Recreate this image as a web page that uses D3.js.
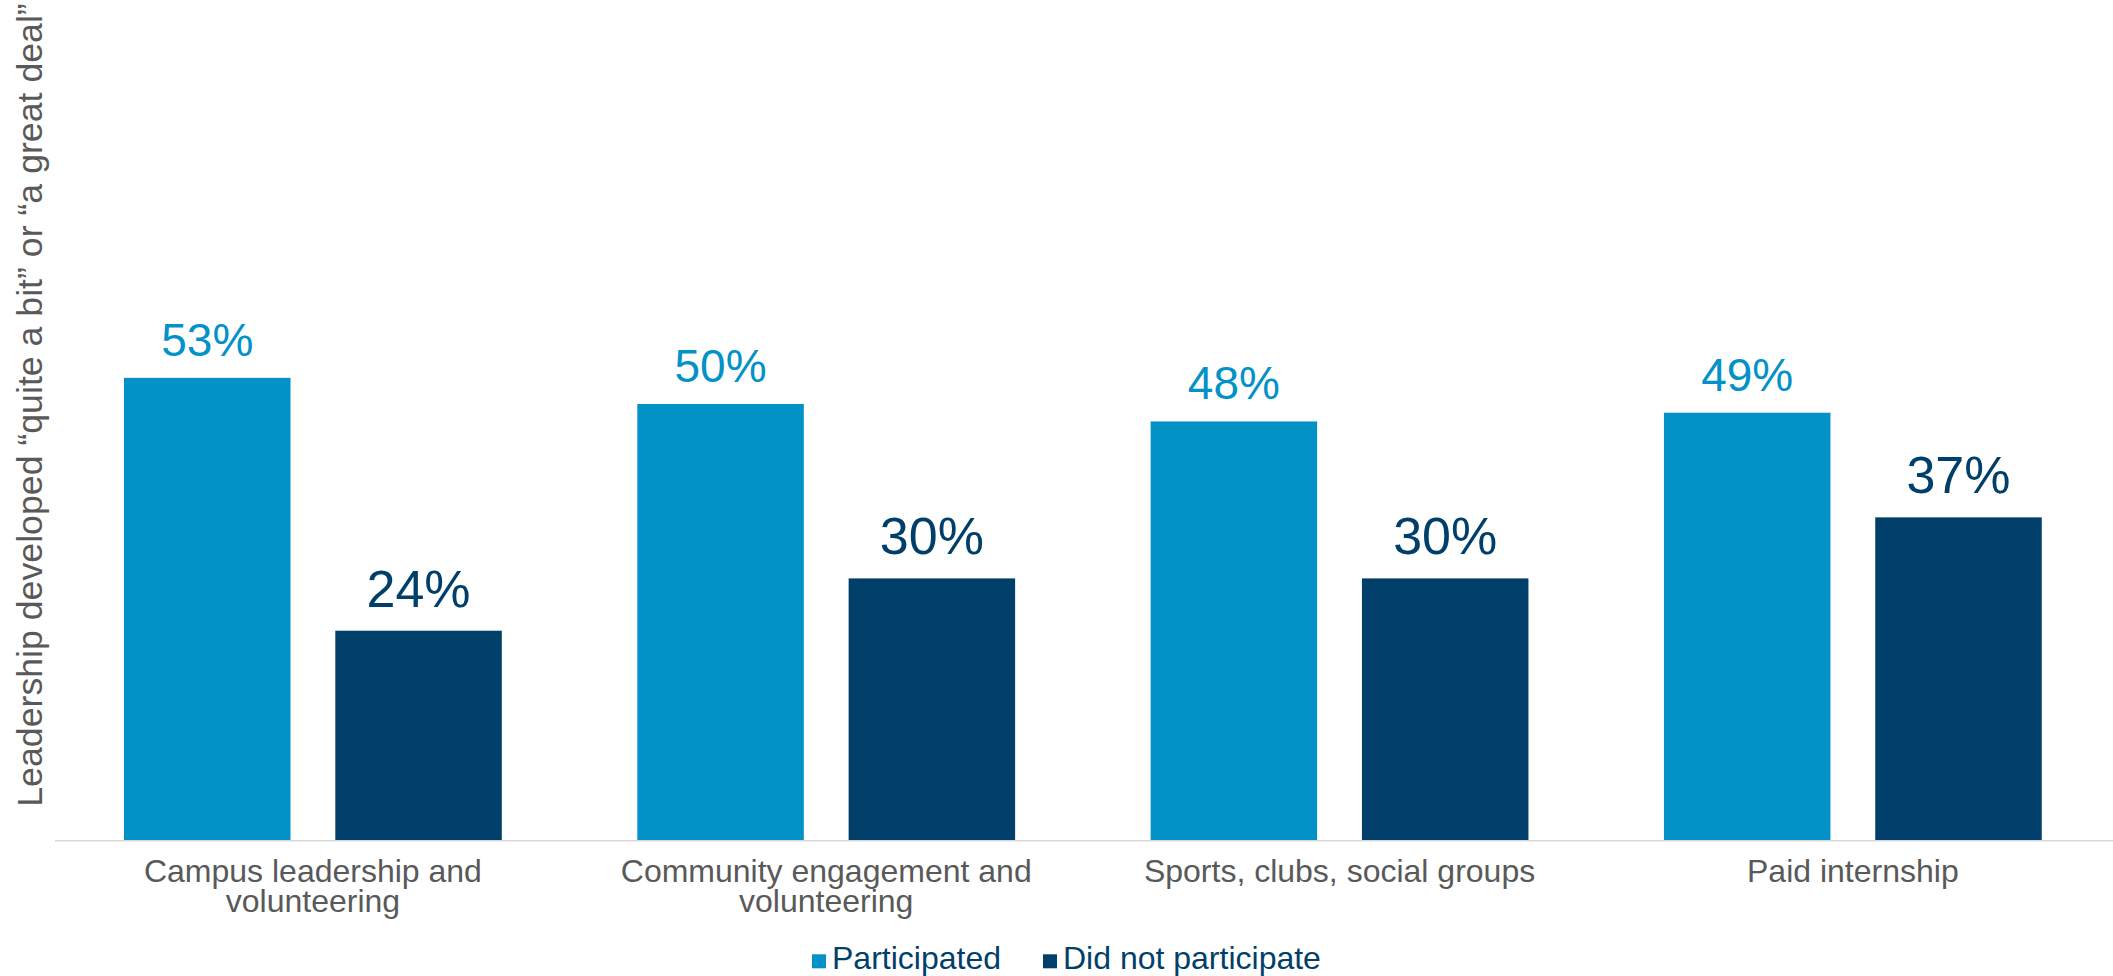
<!DOCTYPE html>
<html>
<head>
<meta charset="utf-8">
<script src="https://cdn.jsdelivr.net/npm/d3@7"></script>
<style>
  html, body { margin: 0; padding: 0; background: #ffffff; }
  svg { display: block; }
  text { font-family: "Liberation Sans", Arial, Helvetica, sans-serif; }
</style>
</head>
<body>
<svg id="chart" width="2113" height="976"></svg>
<script>
// Activity categories (wrapped label lines for the x axis)
const categories = [
  "Campus leadership and volunteering",
  "Community engagement and volunteering",
  "Sports, clubs, social groups",
  "Paid internship"
];
const categoryLines = [
  ["Campus leadership and", "volunteering"],
  ["Community engagement and", "volunteering"],
  ["Sports, clubs, social groups"],
  ["Paid internship"]
];

// Series
const seriesNames = ["Participated", "Did not participate"];
const participated = [53, 50, 48, 49];
const notParticipated = [24, 30, 30, 37];

const yTitle = "Leadership developed \u201Cquite a bit\u201D or \u201Ca great deal\u201D";

const colors = { "Participated": "#0392C7", "Did not participate": "#013F6B" };
const labelSize = { "Participated": 46, "Did not participate": 52 };
const labelGap = { "Participated": 22, "Did not participate": 24 };

const svg = d3.select("#chart");
const W = 2113, H = 976;

const x0 = d3.scaleBand()
  .domain(categories)
  .range([56.25, 2109.5])
  .paddingInner(0.264)
  .paddingOuter(0.132);

const x1 = d3.scaleBand()
  .domain(seriesNames)
  .range([0, x0.bandwidth()])
  .paddingInner(0.212)
  .paddingOuter(0);

const y = d3.scaleLinear().domain([0, 60]).range([840, 316.8]);

const rows = categories.map((c, i) => ({
  category: c,
  lines: categoryLines[i],
  values: [
    { series: "Participated", value: participated[i] },
    { series: "Did not participate", value: notParticipated[i] }
  ]
}));

// Bars
const groups = svg.append("g").selectAll("g.group")
  .data(rows)
  .join("g")
  .attr("class", "group")
  .attr("transform", d => `translate(${x0(d.category)},0)`);

groups.selectAll("rect")
  .data(d => d.values)
  .join("rect")
  .attr("x", d => x1(d.series))
  .attr("y", d => y(d.value))
  .attr("width", x1.bandwidth())
  .attr("height", d => y(0) - y(d.value))
  .attr("fill", d => colors[d.series]);

// Value labels
groups.selectAll("text.value")
  .data(d => d.values)
  .join("text")
  .attr("class", "value")
  .attr("x", d => x1(d.series) + x1.bandwidth() / 2)
  .attr("y", d => y(d.value) - labelGap[d.series])
  .attr("text-anchor", "middle")
  .attr("font-size", d => labelSize[d.series])
  .attr("fill", d => colors[d.series])
  .text(d => d.value + "%");

// Baseline
svg.append("line")
  .attr("x1", 55).attr("x2", W)
  .attr("y1", y(0) + 0.75).attr("y2", y(0) + 0.75)
  .attr("stroke", "#D9D9D9")
  .attr("stroke-width", 1.5);

// Category labels
const catLabels = svg.append("g").selectAll("text.cat")
  .data(rows)
  .join("text")
  .attr("class", "cat")
  .attr("text-anchor", "middle")
  .attr("font-size", 32)
  .attr("fill", "#595959")
  .attr("transform", d => `translate(${x0(d.category) + x0.bandwidth() / 2},881.7)`);

catLabels.selectAll("tspan")
  .data(d => d.lines)
  .join("tspan")
  .attr("x", 0)
  .attr("y", (d, i) => i * 30)
  .text(d => d);

// Y axis title
svg.append("text")
  .attr("transform", "translate(42,405) rotate(-90)")
  .attr("text-anchor", "middle")
  .attr("font-size", 35.7)
  .attr("fill", "#595959")
  .text(yTitle);

// Legend
const legend = svg.append("g").attr("transform", "translate(812,969.3)");
let lx = 0;
seriesNames.forEach((name, i) => {
  const item = legend.append("g").attr("transform", `translate(${lx},0)`);
  item.append("rect")
    .attr("x", 0).attr("y", -15)
    .attr("width", 14).attr("height", 14)
    .attr("fill", colors[name]);
  const t = item.append("text")
    .attr("x", 20).attr("y", 0)
    .attr("font-size", 32)
    .attr("fill", "#013F6B")
    .text(name);
  lx += 20 + t.node().getComputedTextLength() + 42;
});
</script>
</body>
</html>
